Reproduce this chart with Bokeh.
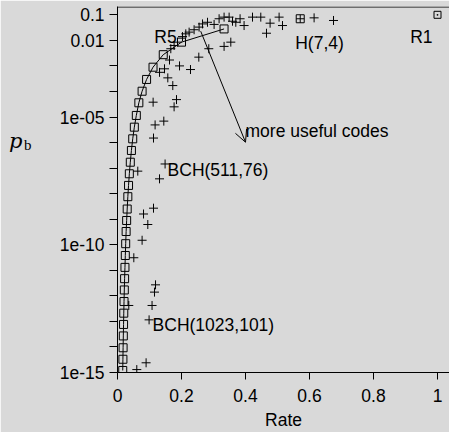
import json
from bokeh.plotting import figure
from bokeh.models import (Range1d, FixedTicker, CustomJSTickFormatter, Label,
                          Arrow, OpenHead, Span, LogAxis)
from bokeh.embed import file_html
from bokeh.resources import INLINE

# ---------------- data ----------------
# repetition codes R3 ... R61 (squares, joined by a line)
rep_rate = [0.333, 0.2, 0.143, 0.111, 0.0909, 0.0769, 0.0667, 0.0588, 0.0526,
            0.0476, 0.0435, 0.04, 0.037, 0.0345, 0.0323, 0.0303, 0.0286, 0.027,
            0.0256, 0.0244, 0.0233, 0.0222, 0.0213, 0.0204, 0.0196, 0.0189,
            0.0182, 0.0175, 0.0169, 0.0164]
rep_pb = [2.8e-2, 8.5e-3, 2.75e-3, 8.9e-4, 2.95e-4, 1.02e-4, 3.6e-5, 1.15e-5,
          4.0e-6, 1.4e-6, 4.9e-7, 1.7e-7, 6.0e-8, 2.1e-8, 7.6e-9, 2.5e-9,
          8.9e-10, 3.3e-10, 1.1e-10, 3.8e-11, 1.3e-11, 4.7e-12, 1.7e-12,
          6.0e-13, 2.1e-13, 7.6e-14, 2.7e-14, 9.3e-15, 3.3e-15, 1.2e-15]

# R1 and the (7,4) Hamming code
r1_rate = [1.0]
r1_pb = [0.1]
ham_rate = [0.571]
ham_pb = [0.07]

# BCH codes (plus signs)
bch_rate = [0.0603, 0.0894, 0.0987, 0.108, 0.0353, 0.1156, 0.1188, 0.051,
            0.0769, 0.0947, 0.0813, 0.1125, 0.1313, 0.0634, 0.1487, 0.1125,
            0.1175, 0.1447, 0.1113, 0.1769, 0.1844, 0.1728, 0.1572, 0.1313,
            0.1469, 0.1938, 0.2281, 0.1625, 0.2541, 0.2853, 0.1666, 0.1769,
            0.1875, 0.2031, 0.2134, 0.2238, 0.2394, 0.255, 0.2656, 0.2813,
            0.3019, 0.3175, 0.3331, 0.3488, 0.3594, 0.3697, 0.3831, 0.3956,
            0.4219, 0.4478, 0.4769, 0.505, 0.5156, 0.4656, 0.3331, 0.3541,
            0.6144, 0.675]
bch_pb = [1.3e-15, 2.4e-15, 1.15e-13, 4.2e-13, 4.2e-13, 1.4e-12, 2.7e-12,
          3.1e-11, 1.5e-10, 6.2e-10, 1.6e-9, 2.7e-9, 3.8e-8, 7.6e-8, 1.45e-7,
          1.5e-6, 4.9e-6, 6.9e-6, 3.8e-5, 2.5e-5, 4.8e-5, 1.7e-4, 3.4e-4,
          5.6e-4, 7.7e-4, 1.0e-3, 7.2e-4, 1.7e-3, 2.2e-3, 4.7e-3, 4.7e-3,
          6.3e-3, 8.5e-3, 0.014, 0.018, 0.021, 0.026, 0.033, 0.044, 0.051,
          0.042, 0.07, 0.081, 0.081, 0.056, 0.051, 0.07, 0.038, 0.081, 0.081,
          0.047, 0.081, 0.038, 0.019, 5.8e-3, 8.5e-3, 0.076, 0.06]

# named codes for the annotations
bch511_rate, bch511_pb = 0.1487, 1.45e-7
bch1023_rate, bch1023_pb = 0.0987, 1.15e-13
r5_rate, r5_pb = 0.2, 8.5e-3

x_ticks = [0, 0.2, 0.4, 0.6, 0.8, 1]
x_tick_labels = ["0", "0.2", "0.4", "0.6", "0.8", "1"]
y_ticks = [1e-1, 1e-2, 1e-3, 1e-4, 1e-5, 1e-6, 1e-7, 1e-8, 1e-9, 1e-10,
           1e-11, 1e-12, 1e-13, 1e-14, 1e-15]
y_tick_labels = ["0.1", "0.01", "", "", "1e-05", "", "", "", "", "1e-10",
                 "", "", "", "", "1e-15"]
x_title = "Rate"

# ---------------- styling ----------------
BG = "#d9d9d9"
FONT = "Liberation Sans"
FS = "17.5px"

W, H = 449, 432
Y_END = 0.2113
p = figure(width=W, height=H, output_backend="svg", toolbar_location=None,
           y_axis_type="log",
           x_range=Range1d(0, 1.0375), y_range=Range1d(1e-15, Y_END),
           min_border_left=117, min_border_right=0, min_border_top=6,
           min_border_bottom=60)
p.background_fill_color = BG
p.border_fill_color = BG
p.outline_line_color = None
p.grid.visible = False

# axes
xa = p.xaxis[0]
xa.ticker = FixedTicker(ticks=x_ticks)
xa.formatter = CustomJSTickFormatter(code="""
const t = %s, l = %s;
for (let i = 0; i < t.length; i++) { if (Math.abs(t[i] - tick) < 1e-9) return l[i]; }
return "";
""" % (json.dumps(x_ticks), json.dumps(x_tick_labels)))
ya = p.yaxis[0]
ya.ticker = FixedTicker(ticks=y_ticks)
ya.formatter = CustomJSTickFormatter(code="""
const t = %s, l = %s;
for (let i = 0; i < t.length; i++) {
  if (Math.abs(Math.log10(t[i]) - Math.log10(tick)) < 1e-6) return l[i];
}
return "";
""" % (json.dumps(y_ticks), json.dumps(y_tick_labels)))

for ax in (xa, ya):
    ax.axis_line_color = "black"
    ax.major_tick_line_color = "black"
    ax.minor_tick_line_color = None
    ax.major_tick_in = 0
    ax.major_label_text_font = FONT
    ax.major_label_text_font_size = FS
    ax.major_label_text_color = "black"
xa.major_tick_out = 7
xa.major_label_standoff = 9
ya.major_tick_out = 8
ya.major_label_standoff = 5

xa.axis_label = x_title
xa.axis_label_text_font = FONT
xa.axis_label_text_font_size = FS
xa.axis_label_text_font_style = "normal"
xa.axis_label_text_color = "black"
xa.axis_label_standoff = 5

# y title "p_b": two label-only axes stacked left of the y axis
def text_axis(txt, at, font, size, style, standoff):
    ax = LogAxis(ticker=FixedTicker(ticks=[at]),
                 formatter=CustomJSTickFormatter(code="return %s;" % json.dumps(txt)),
                 axis_line_color=None, major_tick_line_color=None,
                 minor_tick_line_color=None, major_tick_out=0, major_tick_in=0,
                 major_label_standoff=standoff, major_label_text_font=font,
                 major_label_text_font_size=size,
                 major_label_text_font_style=style,
                 major_label_text_color="black")
    p.add_layout(ax, "left")

text_axis("b", 7.9e-7, "Liberation Serif", "15px", "normal", 25)
text_axis("p", 1.1e-6, "DejaVu Serif", "21px", "italic", -2)

# top border of the frame (half a pixel inside the frame top)
p.add_layout(Span(location=Y_END / 10 ** (0.5 / 25.55), dimension="width",
                  line_color="black", line_width=1))

# data
p.line(rep_rate, rep_pb, line_color="black", line_width=1)
p.scatter(rep_rate, rep_pb, marker="square", size=8, fill_color=None,
          line_color="black", line_width=1)
p.scatter(r1_rate, r1_pb, marker="square_dot", size=7, fill_color=None,
          line_color="black", line_width=1)
p.scatter(ham_rate, ham_pb, marker="square_cross", size=8, fill_color=None,
          line_color="black", line_width=1)
p.scatter(bch_rate, bch_pb, marker="cross", size=9, line_color="black",
          line_width=1)

# annotations
def lab(text, x, y, xo=0, yo=0, align="left"):
    p.add_layout(Label(x=x, y=y, text=text, x_offset=xo, y_offset=yo,
                       text_align=align, text_baseline="alphabetic",
                       text_font=FONT, text_font_size=FS, text_color="black"))

lab("R5", r5_rate, r5_pb, -4.8, 4.9, "right")
lab("R1", r1_rate[0], r1_pb[0], -5, -21.7, "right")
lab("H(7,4)", ham_rate[0], ham_pb[0], -5, -24.7)
lab("BCH(511,76)", bch511_rate, bch511_pb, 2.5, -6.5)
lab("BCH(1023,101)", bch1023_rate, bch1023_pb, 3.5, -5)
lab("more useful codes", 0.400, 2.8e-6)

p.add_layout(Arrow(end=OpenHead(size=12, line_width=1, line_color="black"),
                   x_start=0.26, y_start=0.0228, x_end=0.40, y_end=1.03e-6,
                   line_color="black", line_width=1))

open("out.html", "w").write(file_html(p, INLINE))
